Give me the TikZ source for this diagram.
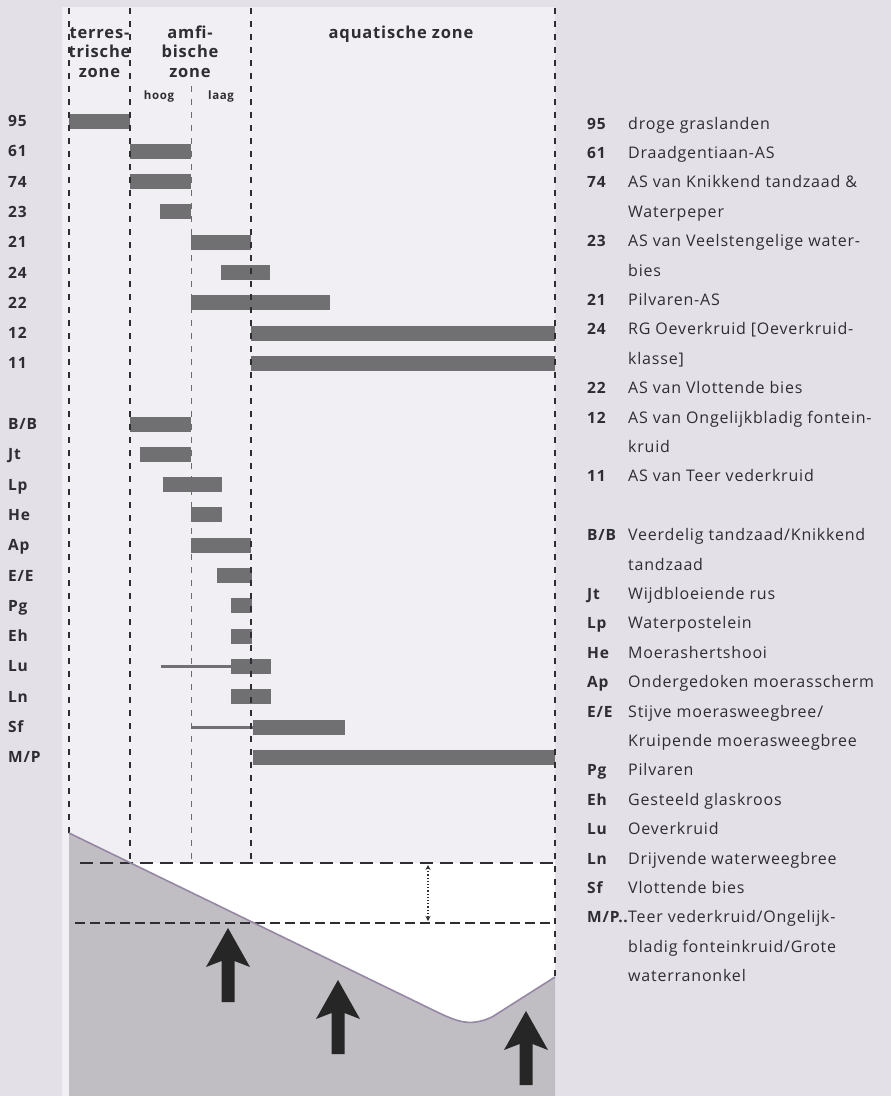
\documentclass[tikz,border=0pt]{standalone}
\usepackage{fontspec}
\setmainfont{Open Sans}[LetterSpace=5]
\usetikzlibrary{arrows.meta,positioning}
\definecolor{paper}{RGB}{228,224,231}
\definecolor{panel}{RGB}{241,239,244}
\definecolor{barfill}{RGB}{112,111,114}
\definecolor{soil}{RGB}{192,190,195}
\definecolor{bank}{RGB}{150,135,165}
\definecolor{ink}{RGB}{45,45,50}

\tikzset{
  zoneline/.style={ink, line width=1.4pt, dash pattern=on 6pt off 7pt},
  bar/.style={fill=barfill},
  stalk/.style={barfill, line width=3pt},
  code/.style={font=\bfseries\fontsize{15.5}{19.3}\selectfont, text=ink, anchor=base west, inner sep=0pt},
  descr/.style={font=\fontsize{16}{19.3}\selectfont, text=ink, anchor=base west, inner sep=0pt},
  zonehead/.style={font=\bfseries\fontsize{16.5}{19.5}\selectfont, text=ink, align=center, anchor=base, inner sep=0pt},
  kwel/.pic={\fill[black!85] (0,0) -- (22,39) -- (6.5,33) -- (6.5,74) -- (-6.5,74) -- (-6.5,33) -- (-22,39) -- cycle;}
}

\begin{document}
\begin{tikzpicture}[x=1pt,y=-1pt]
  \useasboundingbox (0,0) rectangle (891,1096);
  \fill[paper] (0,0) rectangle (891,1096);
  \fill[panel] (62,7) rectangle (555,1096);

  % open water and bank profile
  \fill[white] (130,863) -- (555,863) -- (555,977) -- (492,1017)
    .. controls (470,1027) and (458,1022) .. (435,1011) -- cycle;
  \fill[soil] (69,833) -- (435,1011) .. controls (458,1022) and (470,1027) .. (492,1017)
    -- (555,977) -- (555,1096) -- (69,1096) -- cycle;

  % rows: label / start / end of the bar
  \foreach \i/\lab/\xa/\xb in {0/95/69/130, 1/61/130/191, 2/74/130/191, 3/23/160/191,
      4/21/191/251, 5/24/221/270, 6/22/191/330, 7/12/251/555, 8/11/251/555,
      10/{B/B}/130/191, 11/Jt/140/191, 12/Lp/163/222, 13/He/191/222, 14/Ap/191/251,
      15/{E/E}/217/252, 16/Pg/231/252, 17/Eh/231/252, 18/Lu/231/271, 19/Ln/231/271,
      20/Sf/253/345, 21/{M/P}/253/555}{
    \fill[bar] (\xa,{121+30.3*\i-7.5}) rectangle (\xb,{121+30.3*\i+7.5});
    \node[code] (r-\i) at (8,{126.5+30.3*\i}) {\lab};
  }
  \draw[stalk] (161,{121+30.3*18}) -- (231,{121+30.3*18});
  \draw[stalk] (191,{121+30.3*20}) -- (253,{121+30.3*20});

  % zone boundaries
  \draw[zoneline] (69,8) -- (69,833);
  \draw[zoneline] (130,8) -- (130,863);
  \draw[zoneline, line width=0.7pt, ink!70] (191,86) -- (191,863);
  \draw[zoneline] (251,8) -- (251,863);
  \draw[zoneline] (555,8) -- (555,977);

  \node[zonehead] (terr) at (99.5,77) {terres-\\trische\\zone};
  \node[zonehead] (amfi) at (190,77) {amfi-\\bische\\zone};
  \node[zonehead] (aqua) at (401,38) {aquatische zone};
  \node[zonehead, font=\bfseries\fontsize{11.5}{13}\selectfont] (hoog) at (159,99) {hoog};
  \node[zonehead, font=\bfseries\fontsize{11.5}{13}\selectfont] (laag) at (221,99) {laag};

  % high and low water level
  \coordinate (hw) at (428,863);
  \coordinate (lw) at (428,923);
  \draw[ink, line width=2.2pt, dash pattern=on 13pt off 7pt] (80,863) -- (555,863);
  \draw[ink, line width=1.8pt, dash pattern=on 10pt off 5pt] (75,923) -- (555,923);
  \draw[ink, dotted, line width=1.2pt, shorten <=2pt, shorten >=2pt,
    {Stealth[length=5pt,width=5pt]}-{Stealth[length=5pt,width=5pt]}] (hw) -- (lw);

  \draw[bank, line width=1.6pt] (69,833) -- (435,1011)
    .. controls (458,1022) and (470,1027) .. (492,1017) -- (555,977);

  % seepage arrows
  \pic at (228,928) {kwel};
  \pic at (338,980) {kwel};
  \pic at (526,1011) {kwel};

  % legend
  \foreach \i/\lab in {0/95, 1/61, 2/74, 4/23, 6/21, 7/24, 9/22, 10/12, 12/11,
      14/{B/B}, 16/Jt, 17/Lp, 18/He, 19/Ap, 20/{E/E}, 22/Pg, 23/Eh, 24/Lu, 25/Ln,
      26/Sf, 27/{M/P..}}
    \node[code] (c-\i) at (587,{129+29.4*\i}) {\lab};
  \foreach \i/\txt in {0/droge graslanden, 1/Draadgentiaan-AS,
      2/AS van Knikkend tandzaad \&, 3/Waterpeper, 4/AS van Veelstengelige water-,
      5/bies, 6/Pilvaren-AS, 7/{RG Oeverkruid [Oeverkruid-}, 8/{klasse]},
      9/AS van Vlottende bies, 10/AS van Ongelijkbladig fontein-, 11/kruid,
      12/AS van Teer vederkruid, 14/{Veerdelig tandzaad/Knikkend}, 15/tandzaad,
      16/Wijdbloeiende rus, 17/Waterpostelein, 18/Moerashertshooi,
      19/Ondergedoken moerasscherm, 20/{Stijve moerasweegbree/},
      21/Kruipende moerasweegbree, 22/Pilvaren, 23/Gesteeld glaskroos,
      24/Oeverkruid, 25/Drijvende waterweegbree, 26/Vlottende bies,
      27/{Teer vederkruid/Ongelijk-}, 28/{bladig fonteinkruid/Grote},
      29/waterranonkel}
    \node[descr] (d-\i) at (628,{129+29.4*\i}) {\txt};
\end{tikzpicture}
\end{document}
